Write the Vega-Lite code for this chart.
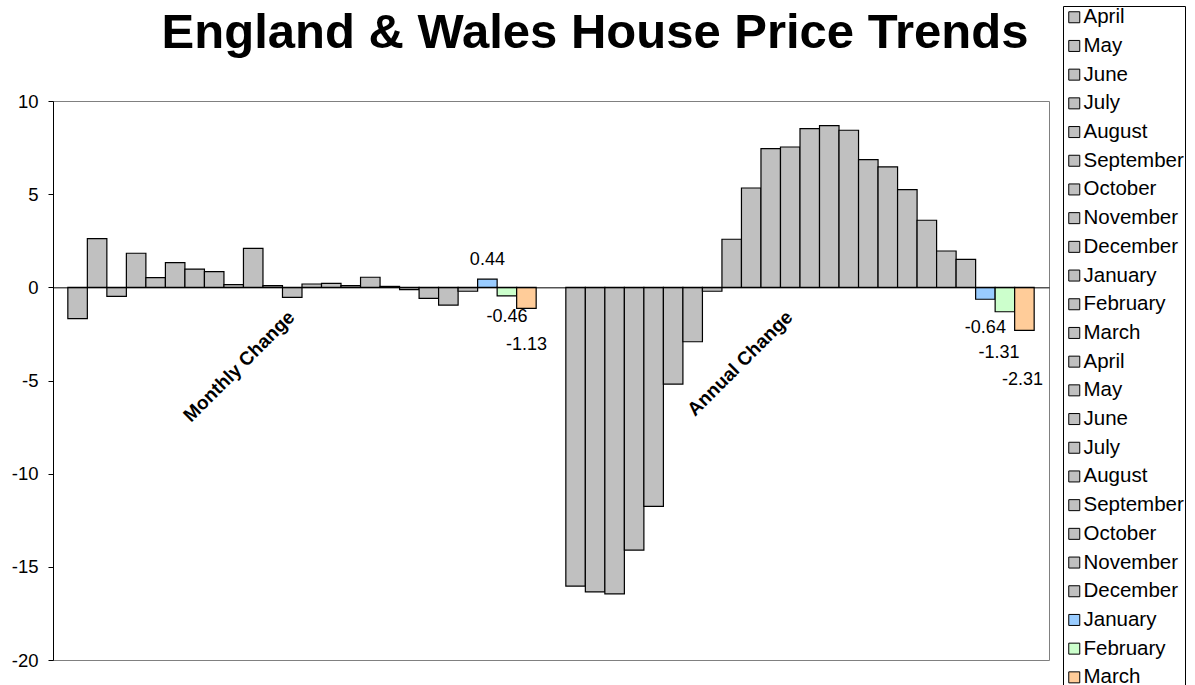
{
  "$schema": "https://vega.github.io/schema/vega-lite/v6.json",
  "width": 996,
  "height": 559,
  "autosize": {"type": "none"},
  "padding": {"left": 53, "top": 101, "right": 146, "bottom": 25},
  "background": "white",
  "title": {"text": "England & Wales House Price Trends", "fontSize": 49, "fontWeight": "bold", "font": "Liberation Sans", "anchor": "middle", "frame": "group", "dx": 44, "offset": -52, "color": "black"},
  "config": {"font": "Liberation Sans", "view": {"stroke": "#808080", "strokeWidth": 1}},
  "data": {"values": [
    {"cat": "Monthly Change", "series": "01 April", "value": -1.68},
    {"cat": "Monthly Change", "series": "02 May", "value": 2.61},
    {"cat": "Monthly Change", "series": "03 June", "value": -0.48},
    {"cat": "Monthly Change", "series": "04 July", "value": 1.83},
    {"cat": "Monthly Change", "series": "05 August", "value": 0.52},
    {"cat": "Monthly Change", "series": "06 September", "value": 1.33},
    {"cat": "Monthly Change", "series": "07 October", "value": 0.98},
    {"cat": "Monthly Change", "series": "08 November", "value": 0.84},
    {"cat": "Monthly Change", "series": "09 December", "value": 0.14},
    {"cat": "Monthly Change", "series": "10 January", "value": 2.09},
    {"cat": "Monthly Change", "series": "11 February", "value": 0.09},
    {"cat": "Monthly Change", "series": "12 March", "value": -0.54},
    {"cat": "Monthly Change", "series": "13 April", "value": 0.18},
    {"cat": "Monthly Change", "series": "14 May", "value": 0.21},
    {"cat": "Monthly Change", "series": "15 June", "value": 0.09},
    {"cat": "Monthly Change", "series": "16 July", "value": 0.54},
    {"cat": "Monthly Change", "series": "17 August", "value": 0.05},
    {"cat": "Monthly Change", "series": "18 September", "value": -0.12},
    {"cat": "Monthly Change", "series": "19 October", "value": -0.59},
    {"cat": "Monthly Change", "series": "20 November", "value": -0.95},
    {"cat": "Monthly Change", "series": "21 December", "value": -0.21},
    {"cat": "Monthly Change", "series": "22 January", "value": 0.44},
    {"cat": "Monthly Change", "series": "23 February", "value": -0.46},
    {"cat": "Monthly Change", "series": "24 March", "value": -1.13},
    {"cat": "Annual Change", "series": "01 April", "value": -16.03},
    {"cat": "Annual Change", "series": "02 May", "value": -16.34},
    {"cat": "Annual Change", "series": "03 June", "value": -16.45},
    {"cat": "Annual Change", "series": "04 July", "value": -14.1},
    {"cat": "Annual Change", "series": "05 August", "value": -11.76},
    {"cat": "Annual Change", "series": "06 September", "value": -5.19},
    {"cat": "Annual Change", "series": "07 October", "value": -2.92},
    {"cat": "Annual Change", "series": "08 November", "value": -0.21},
    {"cat": "Annual Change", "series": "09 December", "value": 2.58},
    {"cat": "Annual Change", "series": "10 January", "value": 5.33},
    {"cat": "Annual Change", "series": "11 February", "value": 7.44},
    {"cat": "Annual Change", "series": "12 March", "value": 7.53},
    {"cat": "Annual Change", "series": "13 April", "value": 8.52},
    {"cat": "Annual Change", "series": "14 May", "value": 8.68},
    {"cat": "Annual Change", "series": "15 June", "value": 8.43},
    {"cat": "Annual Change", "series": "16 July", "value": 6.85},
    {"cat": "Annual Change", "series": "17 August", "value": 6.46},
    {"cat": "Annual Change", "series": "18 September", "value": 5.24},
    {"cat": "Annual Change", "series": "19 October", "value": 3.6},
    {"cat": "Annual Change", "series": "20 November", "value": 1.95},
    {"cat": "Annual Change", "series": "21 December", "value": 1.5},
    {"cat": "Annual Change", "series": "22 January", "value": -0.64},
    {"cat": "Annual Change", "series": "23 February", "value": -1.31},
    {"cat": "Annual Change", "series": "24 March", "value": -2.31}
  ]},
  "encoding": {
    "x": {"field": "cat", "type": "nominal", "sort": ["Monthly Change", "Annual Change"],
      "scale": {"paddingInner": 0, "paddingOuter": 0},
      "axis": {"title": null, "orient": "bottom", "offset": -372.67, "labelAngle": -45, "labelFontSize": 19, "labelFontWeight": "bold", "labelColor": "black", "labelOffset": -17, "domainColor": "black", "domainWidth": 1, "ticks": false, "labelPadding": 20, "zindex": 1}},
    "xOffset": {"field": "series", "type": "nominal",
      "scale": {"domain": ["01 April","02 May","03 June","04 July","05 August","06 September","07 October","08 November","09 December","10 January","11 February","12 March","13 April","14 May","15 June","16 July","17 August","18 September","19 October","20 November","21 December","22 January","23 February","24 March"], "paddingInner": 0, "paddingOuter": 0.76}},
    "y": {"field": "value", "type": "quantitative",
      "scale": {"domain": [-20, 10], "nice": false, "zero": false},
      "axis": {"title": null, "values": [-20, -15, -10, -5, 0, 5, 10], "labelExpr": "toString(datum.value)", "labelFontSize": 18.5, "labelColor": "black", "domainColor": "black", "tickColor": "black", "tickSize": 5, "labelPadding": 10, "grid": false, "labelFlush": false}}
  },
  "layer": [
    {
      "mark": {"type": "bar", "stroke": "black", "strokeWidth": 1.2},
      "encoding": {
        "color": {"field": "series", "type": "nominal",
          "scale": {"domain": ["01 April","02 May","03 June","04 July","05 August","06 September","07 October","08 November","09 December","10 January","11 February","12 March","13 April","14 May","15 June","16 July","17 August","18 September","19 October","20 November","21 December","22 January","23 February","24 March"],
            "range": ["#C0C0C0","#C0C0C0","#C0C0C0","#C0C0C0","#C0C0C0","#C0C0C0","#C0C0C0","#C0C0C0","#C0C0C0","#C0C0C0","#C0C0C0","#C0C0C0","#C0C0C0","#C0C0C0","#C0C0C0","#C0C0C0","#C0C0C0","#C0C0C0","#C0C0C0","#C0C0C0","#C0C0C0","#99CCFF","#CCFFCC","#FFCC99"]},
          "legend": {"orient": "none", "legendX": 1010, "legendY": -95, "title": null, "labelExpr": "substring(datum.label, 3)", "labelFont": "Liberation Sans", "labelFontSize": 20.5, "labelColor": "black", "symbolType": "square", "symbolSize": 121, "symbolStrokeColor": "black", "symbolStrokeWidth": 1, "symbolOpacity": 1, "strokeColor": "black", "fillColor": "white", "padding": 1, "rowPadding": 7.7, "labelOffset": -1, "symbolLimit": 50, "direction": "vertical"}}
      }
    },
    {
      "transform": [{"filter": "datum.cat === 'Monthly Change' && datum.series === '22 January'"}],
      "mark": {"type": "text", "fontSize": 18, "baseline": "middle", "dy": -19, "color": "black"},
      "encoding": {"text": {"field": "value", "type": "nominal"}}
    },
    {
      "transform": [{"filter": "datum.cat === 'Monthly Change' && datum.series === '23 February'"}],
      "mark": {"type": "text", "fontSize": 18, "baseline": "middle", "dy": 21, "color": "black"},
      "encoding": {"text": {"field": "value", "type": "nominal"}}
    },
    {
      "transform": [{"filter": "datum.cat === 'Monthly Change' && datum.series === '24 March'"}],
      "mark": {"type": "text", "fontSize": 18, "baseline": "middle", "dy": 37, "color": "black"},
      "encoding": {"text": {"field": "value", "type": "nominal"}}
    },
    {
      "transform": [{"filter": "datum.cat === 'Annual Change' && datum.series === '22 January'"}],
      "mark": {"type": "text", "fontSize": 18, "baseline": "middle", "dy": 29, "color": "black"},
      "encoding": {"text": {"field": "value", "type": "nominal"}}
    },
    {
      "transform": [{"filter": "datum.cat === 'Annual Change' && datum.series === '23 February'"}],
      "mark": {"type": "text", "fontSize": 18, "baseline": "middle", "dy": 41, "dx": -6, "color": "black"},
      "encoding": {"text": {"field": "value", "type": "nominal"}}
    },
    {
      "transform": [{"filter": "datum.cat === 'Annual Change' && datum.series === '24 March'"}],
      "mark": {"type": "text", "fontSize": 18, "baseline": "middle", "dy": 50, "dx": -2, "color": "black"},
      "encoding": {"text": {"field": "value", "type": "nominal"}}
    }
  ]
}
